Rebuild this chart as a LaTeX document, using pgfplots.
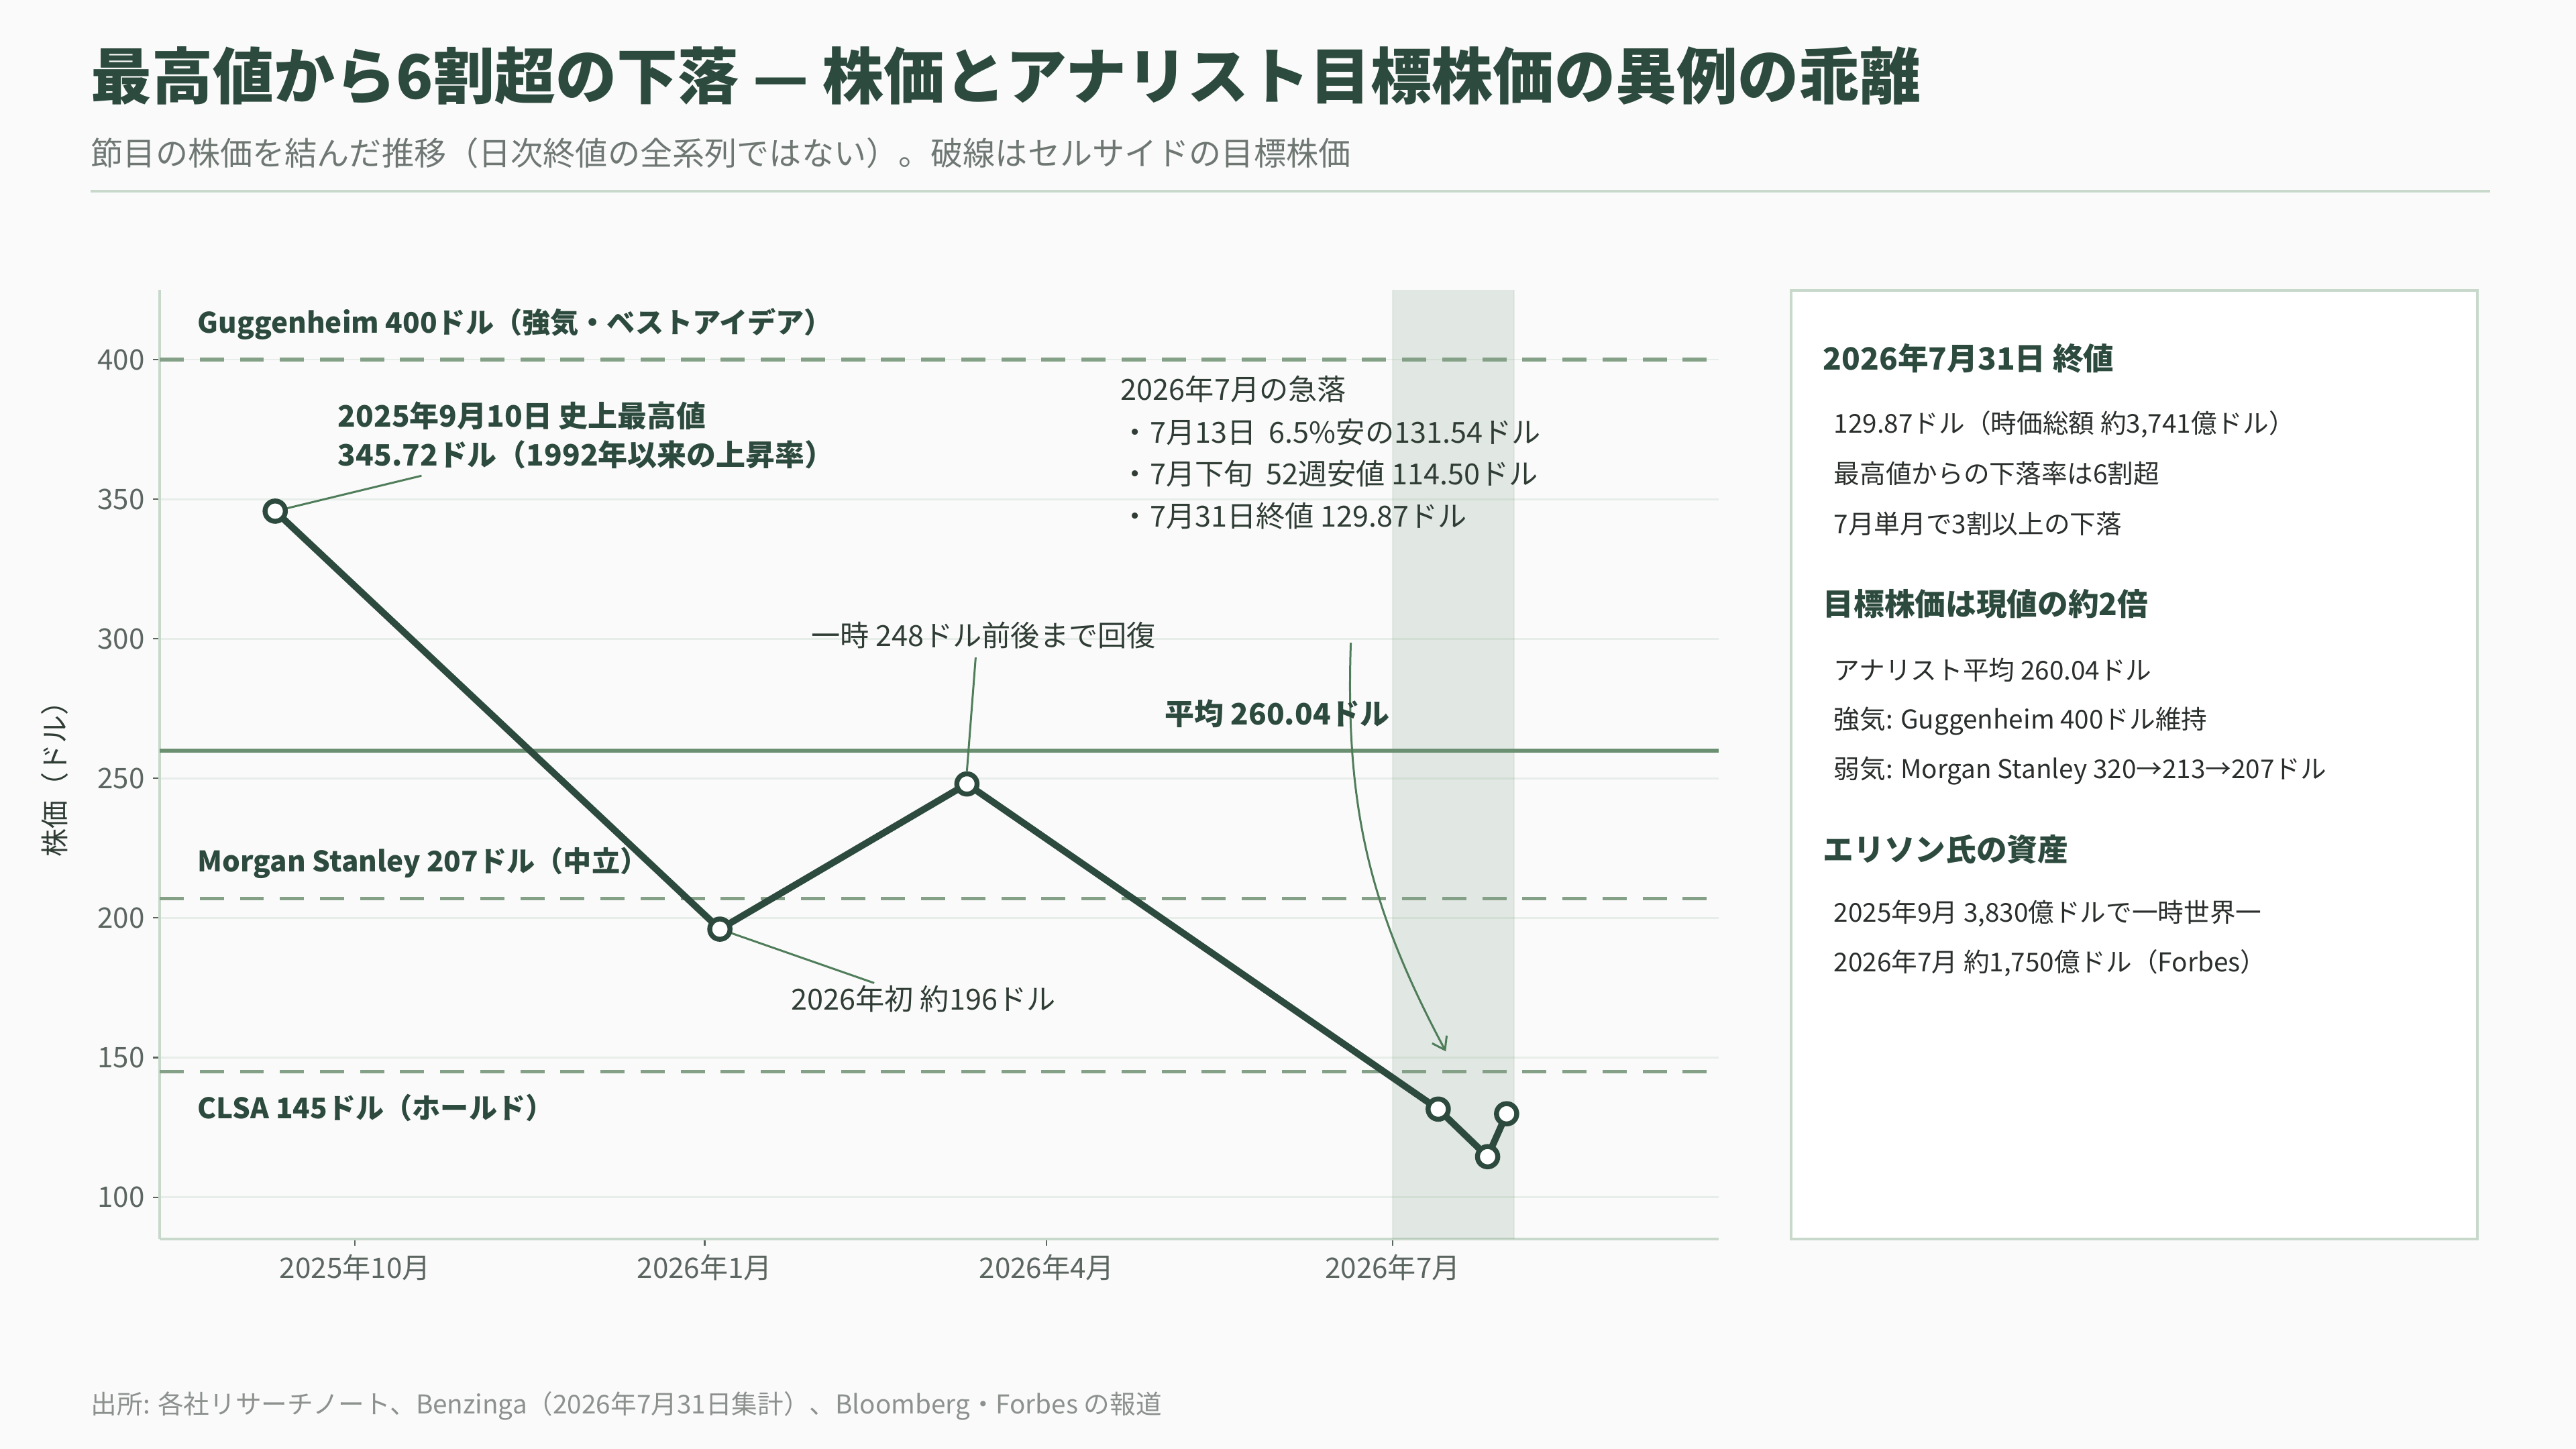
\documentclass[border=0pt]{standalone}
\usepackage{pgfplots}
\usepackage{pgfplotstable}
\pgfplotsset{compat=1.18}
\usepackage{fontspec}
\setmainfont{Noto Sans CJK JP}
\usetikzlibrary{arrows.meta}
\definecolor{bg}{HTML}{FAFAFA}
\definecolor{dk}{HTML}{2D4A3E}
\definecolor{mid}{HTML}{6B8F71}
\definecolor{dashc}{HTML}{84A187}
\definecolor{lead}{HTML}{4F7D5A}
\definecolor{gridc}{HTML}{E7EDE8}
\definecolor{rulec}{HTML}{C8D9CC}
\definecolor{tickc}{HTML}{5C6660}
\definecolor{subc}{HTML}{6E7772}
\definecolor{footc}{HTML}{8C918E}
\definecolor{bodyc}{HTML}{2A2F2C}
\definecolor{annc}{HTML}{2F3D35}

% x = days since 2025-10-01
\pgfplotstableread{
x y
-21 345.72
96 196
161 248
285 131.54
298 114.50
303 129.87
}\price

\newcommand{\fs}[1]{\fontsize{#1}{#1}\selectfont}

\begin{document}
\begin{tikzpicture}[x=1cm,y=1cm]
\useasboundingbox (0,0) rectangle (38.4,-21.6);
\fill[bg] (0,0) rectangle (38.4,-21.6);

% title block
\node[anchor=west, text=dk, inner sep=0] at (1.35,-1.13) {\fs{25.9pt}\bfseries 最高値から6割超の下落 — 株価とアナリスト目標株価の異例の乖離};
\node[anchor=west, text=subc, inner sep=0] at (1.35,-2.28) {\fs{13.7pt}節目の株価を結んだ推移（日次終値の全系列ではない）。破線はセルサイドの目標株価};
\draw[rulec, line width=1.4pt] (1.35,-2.85) -- (37.12,-2.85);

% y label
\node[rotate=90, text=annc] at (0.81,-11.51) {\fs{12pt}株価（ドル）};

\begin{axis}[
  at={(2.38cm,-18.47cm)}, anchor=south west,
  scale only axis, width=23.24cm, height=14.15cm,
  xmin=-51.4, xmax=358.8, ymin=85, ymax=425,
  axis x line=bottom, axis y line=left,
  axis line style={-, draw=rulec, line width=1.2pt},
  xtick={0,92,182,273},
  xticklabels={2025年10月,2026年1月,2026年4月,2026年7月},
  ytick={100,150,200,250,300,350,400},
  ymajorgrids, grid style={gridc, line width=0.8pt},
  tick align=outside, major tick length=0.1cm,
  tick style={tickc, line width=0.6pt},
  tick label style={font=\fs{12pt}, text=tickc},
  /pgf/number format/assume math mode=true,
  clip=false,
]
% July band
\fill[mid, fill opacity=0.17] (axis cs:273,85) rectangle (axis cs:305,425);
\draw[mid, draw opacity=0.12, line width=0.6pt] (axis cs:273,85) -- (axis cs:273,425) (axis cs:305,85) -- (axis cs:305,425);

% analyst targets
\addplot[dashc, line width=1.5pt, dash pattern=on 10.2pt off 6.8pt] coordinates {(-51.4,400) (358.8,400)};
\addplot[dashc, line width=1.5pt, dash pattern=on 10.2pt off 6.8pt] coordinates {(-51.4,207) (358.8,207)};
\addplot[dashc, line width=1.5pt, dash pattern=on 10.2pt off 6.8pt] coordinates {(-51.4,145) (358.8,145)};
\addplot[mid, line width=1.7pt] coordinates {(-51.4,260.04) (358.8,260.04)};

% leader lines
\draw[lead, line width=0.85pt] (axis cs:-21,345.72) -- (axis cs:17.5,358.4);
\draw[lead, line width=0.85pt] (axis cs:163.3,293.3) -- (axis cs:161,252.6);
\draw[lead, line width=0.85pt] (axis cs:96,196) -- (axis cs:136.6,176.7);
\draw[lead, line width=0.85pt, -{Straight Barb[length=5pt, width=7pt]}] (axis cs:262,298.6) to[bend right=15] (axis cs:287,152.2);

% price line
\addplot[dk, line width=2.85pt, mark=*, mark size=4.3pt,
  mark options={fill=white, draw=dk, line width=2.1pt}] table[x=x, y=y] {\price};

% labels
\node[anchor=west, text=dk, inner sep=0] at (axis cs:-41.5,412.7) {\fs{12pt}\bfseries Guggenheim 400ドル（強気・ベストアイデア）};
\node[anchor=west, text=dk, inner sep=0] at (axis cs:-41.5,219.7) {\fs{12pt}\bfseries Morgan Stanley 207ドル（中立）};
\node[anchor=west, text=dk, inner sep=0] at (axis cs:-41.5,132.0) {\fs{12pt}\bfseries CLSA 145ドル（ホールド）};
\node[anchor=west, text=dk, inner sep=0] at (axis cs:-4.6,379.8) {\fs{12.5pt}\bfseries 2025年9月10日 史上最高値};
\node[anchor=west, text=dk, inner sep=0] at (axis cs:-4.6,365.9) {\fs{12.5pt}\bfseries 345.72ドル（1992年以来の上昇率）};
\node[anchor=west, text=annc, inner sep=0] at (axis cs:201.4,389.4) {\fs{12.3pt}2026年7月の急落};
\node[anchor=west, text=annc, inner sep=0] at (axis cs:201.4,374.0) {\fs{12.3pt}・7月13日\ \ 6.5\%安の131.54ドル};
\node[anchor=west, text=annc, inner sep=0] at (axis cs:201.4,359.1) {\fs{12.3pt}・7月下旬\ \ 52週安値 114.50ドル};
\node[anchor=west, text=annc, inner sep=0] at (axis cs:201.4,344.0) {\fs{12.3pt}・7月31日終値 129.87ドル};
\node[anchor=west, text=annc, inner sep=0] at (axis cs:119.9,301.2) {\fs{12.3pt}一時 248ドル前後まで回復};
\node[anchor=west, text=dk, inner sep=0] at (axis cs:213.0,273.3) {\fs{12.5pt}\bfseries 平均 260.04ドル};
\node[anchor=west, text=annc, inner sep=0] at (axis cs:114.7,170.9) {\fs{12.3pt}2026年初 約196ドル};
\end{axis}

% side panel
\draw[rulec, line width=1.3pt, fill=white] (26.70,-4.33) rectangle (36.93,-18.47);
\node[anchor=west, text=dk, inner sep=0] at (27.17,-5.34) {\fs{13pt}\bfseries 2026年7月31日 終値};
\node[anchor=west, text=bodyc, inner sep=0] at (27.33,-6.33) {\fs{11pt}129.87ドル（時価総額 約3,741億ドル）};
\node[anchor=west, text=bodyc, inner sep=0] at (27.33,-7.06) {\fs{11pt}最高値からの下落率は6割超};
\node[anchor=west, text=bodyc, inner sep=0] at (27.33,-7.81) {\fs{11pt}7月単月で3割以上の下落};
\node[anchor=west, text=dk, inner sep=0] at (27.17,-9.00) {\fs{13pt}\bfseries 目標株価は現値の約2倍};
\node[anchor=west, text=bodyc, inner sep=0] at (27.33,-9.99) {\fs{11pt}アナリスト平均 260.04ドル};
\node[anchor=west, text=bodyc, inner sep=0] at (27.33,-10.75) {\fs{11pt}強気: Guggenheim 400ドル維持};
\node[anchor=west, text=bodyc, inner sep=0] at (27.33,-11.49) {\fs{11pt}弱気: Morgan Stanley 320→213→207ドル};
\node[anchor=west, text=dk, inner sep=0] at (27.17,-12.66) {\fs{13pt}\bfseries エリソン氏の資産};
\node[anchor=west, text=bodyc, inner sep=0] at (27.33,-13.62) {\fs{11pt}2025年9月 3,830億ドルで一時世界一};
\node[anchor=west, text=bodyc, inner sep=0] at (27.33,-14.36) {\fs{11pt}2026年7月 約1,750億ドル（Forbes）};

% footnote
\node[anchor=west, text=footc, inner sep=0] at (1.35,-20.96) {\fs{11pt}出所: 各社リサーチノート、Benzinga（2026年7月31日集計）、Bloomberg・Forbes の報道};
\end{tikzpicture}
\end{document}
